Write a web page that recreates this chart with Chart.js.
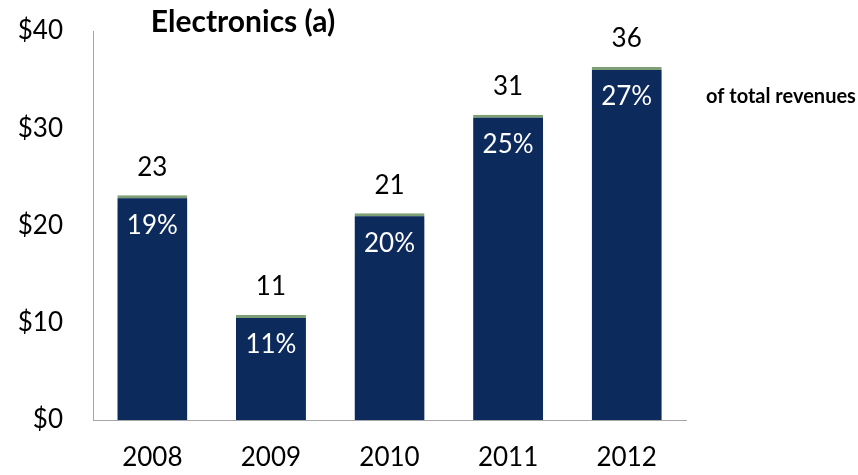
<!DOCTYPE html>
<html>
<head>
<meta charset="utf-8">
<script src="https://cdn.jsdelivr.net/npm/chart.js@4/dist/chart.umd.min.js"></script>
<style>
  html, body { margin: 0; padding: 0; background: #ffffff; }
  #wrap { width: 858px; height: 475px; position: relative; }
</style>
</head>
<body>
<div id="wrap"><canvas id="c" width="858" height="475"></canvas></div>
<script>
// ---- data ----
const years = ["2008", "2009", "2010", "2011", "2012"];
const revenue = [23.1, 10.8, 21.25, 31.4, 36.3];          // $ (bar heights)
const revenueLabels = ["23", "11", "21", "31", "36"];       // labels above bars
const shareLabels = ["19%", "11%", "20%", "25%", "27%"];    // share of total revenues
const yTicks = [0, 10, 20, 30, 40];
const chartTitle = "Electronics (a)";
const shareNote = "of total revenues";

const FONT = "Lato, 'Open Sans', sans-serif";

const shadowPlugin = {
  id: 'barShadow',
  beforeDatasetsDraw(chart) {
    const ctx = chart.ctx;
    ctx.save();
    ctx.shadowColor = 'rgba(0,0,0,0.30)';
    ctx.shadowBlur = 4;
    ctx.shadowOffsetX = 3;
    ctx.shadowOffsetY = 3;
  },
  afterDatasetsDraw(chart) {
    chart.ctx.restore();
  }
};

const labelPlugin = {
  id: 'barLabels',
  afterDraw(chart) {
    const ctx = chart.ctx;
    const meta = chart.getDatasetMeta(0);
    ctx.save();
    ctx.textAlign = 'center';
    ctx.textBaseline = 'middle';
    meta.data.forEach((bar, i) => {
      ctx.font = "26px " + FONT;
      ctx.fillStyle = '#000000';
      ctx.fillText(revenueLabels[i], bar.x, bar.y - 28);
      ctx.fillStyle = '#ffffff';
      ctx.fillText(shareLabels[i], bar.x, bar.y + 30);
    });
    // title
    ctx.font = "bold 30px " + FONT;
    ctx.fillStyle = '#000000';
    ctx.textAlign = 'center';
    ctx.fillText(chartTitle, 243, 22);
    // note
    ctx.font = "bold 20px " + FONT;
    ctx.textAlign = 'left';
    ctx.fillText(shareNote, 706, 97);
    ctx.restore();
  }
};

new Chart(document.getElementById('c'), {
  type: 'bar',
  data: {
    labels: years,
    datasets: [{
      data: revenue,
      backgroundColor: '#0c2a5c',
      borderColor: '#7f9f76',
      borderWidth: { top: 3, left: 0, right: 0, bottom: 0 },
      borderSkipped: 'start',
      categoryPercentage: 1.0,
      barPercentage: 0.59
    }]
  },
  options: {
    responsive: false,
    animation: false,
    events: [],
    layout: { padding: { top: 31, right: 172, bottom: 0, left: 0 } },
    plugins: {
      legend: { display: false },
      tooltip: { enabled: false },
      title: { display: false }
    },
    scales: {
      x: {
        grid: { display: false, drawTicks: false },
        border: { display: true, color: '#a6a6a6', width: 1 },
        ticks: { color: '#000000', font: { family: FONT, size: 26 }, padding: 22, maxRotation: 0 },
        afterFit(scale) { scale.height = 55; scale.paddingLeft = 0; scale.paddingRight = 0; }
      },
      y: {
        min: 0,
        max: 40,
        afterBuildTicks(scale) { scale.ticks = yTicks.map(v => ({ value: v })); },
        grid: { display: false, drawTicks: false },
        border: { display: true, color: '#a6a6a6', width: 1 },
        ticks: {
          color: '#000000',
          font: { family: FONT, size: 26 },
          padding: 30,
          callback: v => '$' + v
        },
        afterFit(scale) { scale.width = 93; scale.paddingTop = 0; scale.paddingBottom = 0; }
      }
    }
  },
  plugins: [shadowPlugin, labelPlugin]
});
</script>
</body>
</html>
